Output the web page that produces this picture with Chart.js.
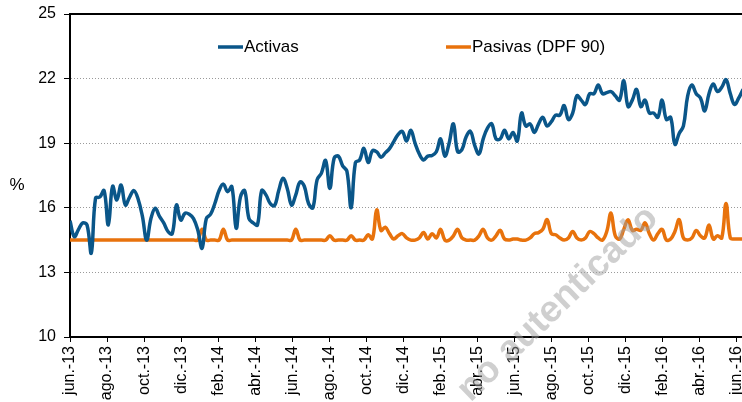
<!DOCTYPE html>
<html>
<head>
<meta charset="utf-8">
<script src="https://cdn.jsdelivr.net/npm/chart.js@4/dist/chart.umd.min.js"></script>
<style>
    body { margin: 0; background: #fff; }
    #wrap { width: 742px; height: 402px; position: relative; }
</style>
</head>
<body>
<div id="wrap"><canvas id="tasas-chart"></canvas></div>
<script>
const BLUE = '#0A5689'
const ORANGE = '#E8720C'
const FONT = "Arial, 'Liberation Sans', sans-serif"

// etiquetas del eje x (cada dos meses, jun.-13 a jun.-16)
const tickLabels = ['jun.-13', 'ago.-13', 'oct.-13', 'dic.-13', 'feb.-14', 'abr.-14', 'jun.-14',
    'ago.-14', 'oct.-14', 'dic.-14', 'feb.-15', 'abr.-15', 'jun.-15', 'ago.-15', 'oct.-15',
    'dic.-15', 'feb.-16', 'abr.-16', 'jun.-16']
const yTicks = [10, 13, 16, 19, 22, 25]

// tasas semanales (%), desde la primera semana de junio 2013
const activas = [
    15.4, 14.66, 15.0, 15.3, 15.2, 13.9, 16.45, 16.5, 16.8, 15.2,
    17.0, 16.36, 17.06, 16.13, 16.5, 16.8, 16.4, 15.6, 14.5, 15.5,
    15.98, 15.6, 15.3, 14.9, 14.8, 16.13, 15.43, 15.75, 15.7, 15.5,
    14.97, 14.12, 15.5, 15.7, 16.2, 16.8, 17.1, 16.75, 16.98, 15.05,
    16.5, 16.8, 15.5, 15.3, 15.2, 16.8, 16.6, 16.2, 16.1, 16.8,
    17.37, 16.9, 16.13, 16.6, 17.2, 17.0, 16.2, 16.0, 17.3, 17.6,
    18.2, 16.9, 18.3, 18.4, 17.95, 17.7, 16.0, 18.1, 18.22, 18.76,
    18.1, 18.65, 18.6, 18.35, 18.55, 18.75, 19.07, 19.4, 19.55, 19.1,
    19.6, 19.0, 18.5, 18.22, 18.4, 18.43, 18.6, 19.2, 18.4, 19.0,
    19.9, 18.6, 18.7, 19.3, 19.55, 18.9, 18.5, 19.2, 19.7, 19.9,
    19.2, 19.2, 19.6, 19.2, 19.5, 19.1, 20.4, 19.8, 19.9, 19.5,
    19.9, 20.2, 19.8, 20.0, 20.3, 20.3, 20.75, 20.1, 20.4, 21.2,
    21.0, 20.8, 21.3, 21.3, 21.7, 21.3, 21.35, 21.4, 21.2, 21.0,
    21.9, 20.7, 21.0, 21.5, 20.7, 21.0, 20.4, 20.4, 20.2, 21.0,
    20.1, 20.2, 18.95, 19.45, 19.8, 21.2, 21.7, 21.3, 21.1, 20.5,
    21.3, 21.75, 21.4, 21.6, 21.95, 21.3, 20.8, 21.1, 21.5
]
const pasivas = [
    14.5, 14.5, 14.5, 14.5, 14.5, 14.5, 14.5, 14.5, 14.5, 14.5,
    14.5, 14.5, 14.5, 14.5, 14.5, 14.5, 14.5, 14.5, 14.5, 14.5,
    14.5, 14.5, 14.5, 14.5, 14.5, 14.5, 14.5, 14.5, 14.5, 14.5,
    14.5, 15.0, 14.5, 14.5, 14.5, 14.5, 15.0, 14.5, 14.5, 14.5,
    14.5, 14.5, 14.5, 14.5, 14.5, 14.5, 14.5, 14.5, 14.5, 14.5,
    14.5, 14.5, 14.5, 15.0, 14.5, 14.5, 14.5, 14.5, 14.5, 14.5,
    14.5, 14.7, 14.5, 14.5, 14.5, 14.5, 14.7, 14.5, 14.5, 14.5,
    14.75, 14.55, 15.9, 14.95, 15.1, 14.8, 14.55, 14.7, 14.8, 14.6,
    14.5, 14.5, 14.6, 14.85, 14.55, 14.8, 14.6, 15.0, 14.5, 14.5,
    14.7, 15.0, 14.6, 14.5, 14.5, 14.5, 14.7, 15.0, 14.6, 14.5,
    14.7, 14.95, 14.55, 14.5, 14.55, 14.55, 14.5, 14.5, 14.6, 14.8,
    14.85, 15.0, 15.45, 14.8, 14.75, 14.6, 14.5, 14.6, 14.9, 14.6,
    14.5, 14.6, 14.9, 14.8, 14.6, 14.5, 14.9, 15.75, 14.7, 14.55,
    15.0, 15.45, 14.95, 15.0, 14.95, 15.3, 14.8, 14.5, 14.8, 15.0,
    14.5, 14.55, 14.9, 15.45, 14.6, 14.5, 14.6, 14.95, 14.7, 14.6,
    15.2, 14.55, 14.7, 14.6, 16.2, 14.6, 14.55, 14.55, 14.55
]

const WEEKS_PER_TICK = 52.18 / 6   // dos meses en semanas

function toPoints(values) {
    return values.map((v, i) => ({x: i, y: v}))
}

// leyenda dentro del area, marca de agua y "%"
const extras = {
    id: 'extras',
    afterDraw(chart) {
        const ctx = chart.ctx
        const area = chart.chartArea
        ctx.save()
        // "%"
        ctx.fillStyle = '#000'
        ctx.font = '17px ' + FONT
        ctx.textAlign = 'center'
        ctx.textBaseline = 'middle'
        ctx.fillText('%', 17, (area.top + area.bottom) / 2 + 10)

        // leyenda
        const legendX = [218, 446]
        const ly = area.top + 33
        chart.data.datasets.forEach((ds, i) => {
            ctx.strokeStyle = ds.borderColor
            ctx.lineWidth = 3.5
            ctx.beginPath()
            ctx.moveTo(legendX[i], ly)
            ctx.lineTo(legendX[i] + 25, ly)
            ctx.stroke()
            ctx.fillStyle = '#000'
            ctx.textAlign = 'left'
            ctx.fillText(ds.label, legendX[i] + 26, ly)
        })

        // marca de agua
        ctx.translate(558, 304)
        ctx.rotate(-44 * Math.PI / 180)
        ctx.font = 'bold 37px ' + FONT
        ctx.fillStyle = 'rgba(160, 160, 160, 0.5)'
        ctx.textAlign = 'center'
        ctx.fillText('no autenticado', 0, 0)
        ctx.restore()
    }
}

const config = {
    type: 'line',
    data: {
        datasets: [
            {
                label: 'Activas',
                data: toPoints(activas),
                borderColor: BLUE,
                borderWidth: 3.5,
                pointRadius: 0,
                tension: 0.4,
            },
            {
                label: 'Pasivas (DPF 90)',
                data: toPoints(pasivas),
                borderColor: ORANGE,
                borderWidth: 3.5,
                pointRadius: 0,
                tension: 0.4,
            }
        ]
    },
    options: {
        responsive: true,
        maintainAspectRatio: false,
        animation: false,
        layout: { padding: { top: 14, right: 0, left: 0, bottom: 0 } },
        scales: {
            x: {
                type: 'linear',
                min: 0,
                max: 157.75,
                afterBuildTicks: function (scale) {
                    scale.ticks = tickLabels.map((_, i) => ({value: i * WEEKS_PER_TICK}))
                },
                afterFit: function (scale) {
                    scale.height = 65
                    scale.paddingLeft = 0
                    scale.paddingRight = 0
                },
                ticks: {
                    autoSkip: false,
                    minRotation: 90,
                    maxRotation: 90,
                    padding: 4,
                    color: '#000',
                    font: { family: FONT, size: 16 },
                    callback: function (value, index) {
                        return tickLabels[index]
                    }
                },
                grid: {
                    drawOnChartArea: false,
                    drawTicks: true,
                    tickLength: 5,
                    tickColor: '#000',
                },
                border: { color: '#000', width: 2 },
            },
            x2: {
                type: 'linear',
                position: 'top',
                min: 0,
                max: 157.75,
                ticks: { display: false },
                grid: { display: false },
                border: { color: '#000', width: 2 },
                afterFit: function (scale) {
                    scale.height = 0
                },
            },
            y: {
                min: 10,
                max: 25,
                afterBuildTicks: function (scale) {
                    scale.ticks = yTicks.map(v => ({value: v}))
                },
                afterFit: function (scale) {
                    scale.width = 70
                    scale.paddingTop = 0
                    scale.paddingBottom = 0
                },
                ticks: {
                    padding: 8,
                    color: '#000',
                    font: { family: FONT, size: 16 },
                },
                grid: {
                    color: '#9a9a9a',
                    lineWidth: 1,
                    tickLength: 6,
                    tickColor: '#000',
                    tickBorderDash: [],
                },
                border: { color: '#000', width: 2, dash: [1, 2] },
            }
        },
        plugins: {
            legend: { display: false },
            tooltip: { enabled: false },
        }
    },
    plugins: [extras]
}

new Chart(document.getElementById('tasas-chart').getContext('2d'), config)
</script>
</body>
</html>
